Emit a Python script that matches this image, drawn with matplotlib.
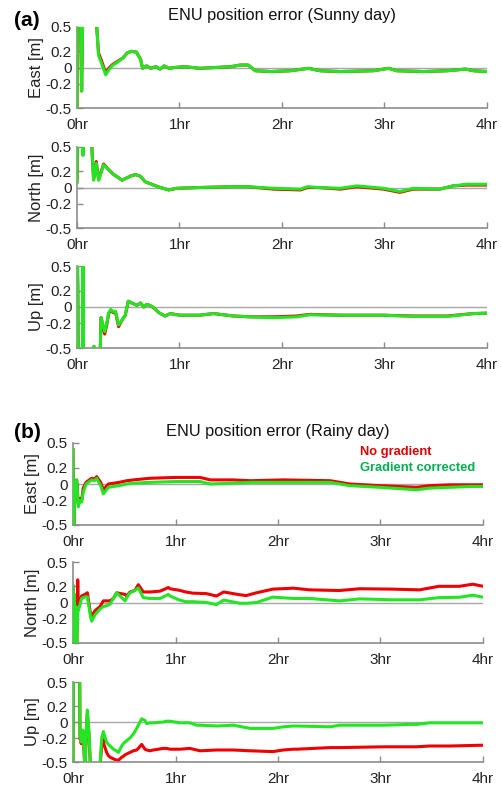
import numpy as np
import matplotlib
matplotlib.use('Agg')
import matplotlib.pyplot as plt

plt.rcParams['font.family'] = ['Liberation Sans', 'DejaVu Sans']

# ticks
hr_ticks = [0, 1, 2, 3, 4]
hr_labels = ['0hr', '1hr', '2hr', '3hr', '4hr']
y_ticks = [-0.5, -0.2, 0, 0.2, 0.5]
y_labels = ['-0.5', '-0.2', '0', '0.2', '0.5']

# (a) sunny day -- east
t_a_east = [0, 0.003, 0.035, 0.045, 0.055, 0.19, 0.21, 0.24, 0.28, 0.31, 0.35, 0.40, 0.45, 0.49,
            0.53, 0.58, 0.62, 0.64, 0.68, 0.72, 0.77, 0.81, 0.85, 0.90, 0.95, 1.05, 1.2, 1.35, 1.5,
            1.59, 1.67, 1.74, 1.89, 2.08, 2.26, 2.37, 2.57, 2.89, 3.04, 3.12, 3.38, 3.61, 3.79, 3.87, 4.0]
g_a_east = [-0.6, 0.6, 0.6, -0.29, 0.6, 0.55, 0.15, 0.05, -0.09, -0.03, 0.03, 0.07, 0.12, 0.18,
            0.2, 0.19, 0.1, -0.01, 0.02, -0.01, 0.01, -0.02, 0.02, -0.01, 0.0, 0.01, -0.01, 0.0, 0.01,
            0.03, 0.03, -0.04, -0.05, -0.04, -0.01, -0.04, -0.05, -0.04, -0.01, -0.04, -0.05, -0.04, -0.02, -0.04, -0.05]
r_a_east = [-0.6, 0.6, 0.6, -0.29, 0.6, 0.55, 0.18, 0.08, -0.07, -0.01, 0.04, 0.08, 0.12, 0.18,
            0.2, 0.19, 0.1, -0.01, 0.02, -0.01, 0.01, -0.02, 0.02, -0.01, 0.0, 0.01, -0.01, 0.0, 0.01,
            0.03, 0.03, -0.04, -0.05, -0.04, -0.01, -0.04, -0.05, -0.04, -0.01, -0.04, -0.05, -0.04, -0.02, -0.04, -0.05]

# (a) sunny day -- north
t_a_north = [0, 0.004, 0.03, 0.05, 0.058, 0.065, 0.14, 0.162, 0.188, 0.211, 0.26, 0.309, 0.357, 0.406,
             0.439, 0.52, 0.569, 0.617, 0.666, 0.748, 0.813, 0.894, 0.976, 1.2, 1.53, 1.66, 1.92, 2.18,
             2.25, 2.35, 2.57, 2.73, 2.99, 3.15, 3.28, 3.54, 3.67, 3.8, 4.0]
g_a_north = [0.07, 0.6, 0.6, 0.6, 0.4, 0.6, 0.6, 0.09, 0.3, 0.09, 0.28, 0.22, 0.16, 0.12,
             0.09, 0.14, 0.16, 0.14, 0.07, 0.03, 0.0, -0.03, -0.01, 0.0, 0.01, 0.01, -0.01, -0.02,
             0.01, 0.0, -0.01, 0.02, -0.01, -0.05, -0.01, -0.02, 0.02, 0.04, 0.04]
r_a_north = [0.07, 0.6, 0.6, 0.6, 0.4, 0.6, 0.6, 0.1, 0.32, 0.1, 0.29, 0.22, 0.16, 0.12,
             0.09, 0.14, 0.16, 0.14, 0.07, 0.03, 0.0, -0.03, -0.01, 0.0, 0.01, 0.01, -0.02, -0.03,
             0.0, 0.0, -0.02, 0.01, -0.02, -0.06, -0.02, -0.02, 0.02, 0.03, 0.03]

# (a) sunny day -- up
t_a_up = [0, 0.003, 0.008, 0.012, 0.055, 0.058, 0.062, 0.15, 0.165, 0.18, 0.225, 0.235, 0.25, 0.27,
          0.29, 0.309, 0.33, 0.355, 0.375, 0.406, 0.425, 0.45, 0.471, 0.5, 0.55, 0.585, 0.62, 0.65,
          0.68, 0.71, 0.75, 0.8, 0.86, 0.91, 1.0, 1.2, 1.33, 1.53, 1.69, 1.92, 2.14, 2.27, 2.57,
          2.99, 3.28, 3.61, 3.87, 4.0]
g_a_up = [-0.6, 0.6, 0.25, -0.6, -0.6, 0.6, -0.6, -0.6, -0.48, -0.6, -0.6, -0.13, -0.2, -0.3,
          -0.2, -0.07, -0.03, -0.06, -0.05, -0.22, -0.18, -0.14, -0.1, 0.07, 0.04, 0.02, 0.05, 0.0,
          0.03, 0.02, -0.01, -0.07, -0.11, -0.08, -0.1, -0.1, -0.08, -0.11, -0.12, -0.13, -0.12, -0.095, -0.1,
          -0.1, -0.115, -0.115, -0.08, -0.075]
r_a_up = [-0.6, 0.6, 0.25, -0.6, -0.6, 0.6, -0.6, -0.6, -0.48, -0.6, -0.6, -0.13, -0.22, -0.33,
          -0.22, -0.08, -0.04, -0.07, -0.06, -0.24, -0.19, -0.14, -0.1, 0.07, 0.04, 0.02, 0.05, 0.0,
          0.03, 0.02, -0.01, -0.07, -0.11, -0.08, -0.1, -0.1, -0.08, -0.11, -0.12, -0.12, -0.11, -0.09, -0.1,
          -0.1, -0.11, -0.11, -0.08, -0.075]

# (b) rainy day -- east
t_b_east = [0, 0.007, 0.02, 0.036, 0.052, 0.068, 0.084, 0.1, 0.127, 0.16, 0.182, 0.21, 0.231, 0.247,
            0.27, 0.296, 0.345, 0.45, 0.524, 0.589, 0.751, 1.0, 1.24, 1.34, 1.56, 1.73, 2.05, 2.51,
            2.7, 2.99, 3.35, 3.48, 3.68, 3.87, 4.0]
g_b_east = [0.42, -0.6, 0.0, 0.05, -0.28, -0.2, -0.22, -0.1, 0.0, 0.03, 0.05, 0.04, 0.07, 0.03,
            -0.02, -0.12, -0.04, -0.02, 0.0, 0.01, 0.02, 0.03, 0.03, 0.0, 0.01, 0.02, 0.02, 0.02,
            -0.02, -0.04, -0.07, -0.05, -0.04, -0.03, -0.03]
r_b_east = [0.42, -0.6, 0.0, 0.05, -0.25, -0.18, -0.2, -0.05, 0.02, 0.05, 0.07, 0.06, 0.09, 0.06,
            0.02, -0.07, 0.0, 0.02, 0.04, 0.05, 0.07, 0.08, 0.08, 0.05, 0.05, 0.04, 0.05, 0.04,
            0.0, -0.02, -0.04, -0.02, -0.01, -0.01, -0.01]

# (b) rainy day -- north
t_b_north = [0, 0.005, 0.012, 0.02, 0.03, 0.036, 0.046, 0.052, 0.084, 0.117, 0.14, 0.172, 0.182, 0.215,
             0.264, 0.296, 0.328, 0.361, 0.394, 0.426, 0.508, 0.524, 0.556, 0.605, 0.637, 0.686, 0.751,
             0.849, 0.93, 0.946, 1.04, 1.1, 1.17, 1.3, 1.4, 1.47, 1.63, 1.69, 1.79, 1.95, 2.15, 2.31,
             2.6, 2.8, 3.12, 3.38, 3.57, 3.77, 3.9, 4.0]
g_b_north = [0.2, -0.6, 0.1, -0.6, -0.05, -0.6, -0.1, -0.1, 0.05, 0.07, 0.07, -0.18, -0.23, -0.15,
             -0.08, -0.05, -0.04, -0.02, 0.05, 0.12, 0.02, 0.06, 0.12, 0.15, 0.18, 0.06, 0.05,
             0.05, 0.1, 0.08, 0.03, 0.01, 0.01, 0.0, -0.025, 0.03, -0.01, -0.01, 0.0, 0.066, 0.05, 0.05,
             0.02, 0.045, 0.033, 0.033, 0.06, 0.065, 0.09, 0.066]
r_b_north = [0.2, -0.6, 0.1, -0.6, -0.05, -0.6, 0.28, -0.05, 0.08, 0.1, 0.12, -0.15, -0.17, -0.1,
             -0.05, 0.02, 0.02, 0.02, 0.05, 0.12, 0.1, 0.08, 0.13, 0.15, 0.22, 0.13, 0.13,
             0.14, 0.185, 0.17, 0.15, 0.13, 0.115, 0.11, 0.08, 0.13, 0.095, 0.086, 0.12, 0.165, 0.177, 0.156,
             0.148, 0.17, 0.165, 0.156, 0.2, 0.2, 0.226, 0.2]

# (b) rainy day -- up
t_b_up = [0, 0.003, 0.065, 0.068, 0.08, 0.094, 0.1, 0.117, 0.13, 0.14, 0.155, 0.172, 0.26, 0.28,
          0.296, 0.302, 0.328, 0.345, 0.361, 0.394, 0.41, 0.443, 0.475, 0.491, 0.508, 0.556, 0.589,
          0.621, 0.637, 0.67, 0.702, 0.719, 0.751, 0.784, 0.881, 0.914, 0.946, 1.044, 1.141, 1.206,
          1.239, 1.401, 1.564, 1.73, 1.95, 2.05, 2.15, 2.18, 2.51, 2.6, 3.03, 3.29, 3.35, 3.48, 3.68, 4.0]
g_b_up = [-0.6, 0.6, 0.6, -0.15, -0.25, -0.1, -0.12, -0.6, -0.1, 0.15, -0.1, -0.6, -0.6, -0.2,
          -0.12, -0.15, -0.25, -0.28, -0.3, -0.34, -0.35, -0.38, -0.3, -0.27, -0.25, -0.2, -0.15,
          -0.08, -0.04, 0.04, 0.02, -0.02, -0.01, -0.01, 0.0, 0.01, 0.01, -0.01, -0.01, -0.04,
          -0.04, -0.05, -0.04, -0.08, -0.08, -0.06, -0.05, -0.05, -0.06, -0.04, -0.04, -0.03, -0.03, -0.01, -0.01, -0.01]
r_b_up = [-0.6, 0.6, 0.6, -0.2, -0.27, -0.18, -0.2, -0.6, -0.1, 0.1, -0.15, -0.6, -0.6, -0.3,
          -0.22, -0.28, -0.38, -0.42, -0.44, -0.46, -0.47, -0.48, -0.44, -0.43, -0.41, -0.38, -0.36,
          -0.35, -0.33, -0.28, -0.34, -0.35, -0.36, -0.35, -0.33, -0.33, -0.34, -0.34, -0.33, -0.35,
          -0.36, -0.35, -0.35, -0.36, -0.37, -0.35, -0.34, -0.34, -0.32, -0.32, -0.31, -0.31, -0.31, -0.3, -0.3, -0.29]

paneles = [
    # (rect in pixels: left, top, right, bottom), label, t, red, green
    ((77, 27, 487, 108), 'East [m]', t_a_east, r_a_east, g_a_east),
    ((77, 147, 487, 228), 'North [m]', t_a_north, r_a_north, g_a_north),
    ((77, 266, 487, 348), 'Up [m]', t_a_up, r_a_up, g_a_up),
    ((73, 443, 483, 525), 'East [m]', t_b_east, r_b_east, g_b_east),
    ((73, 562, 483, 643), 'North [m]', t_b_north, r_b_north, g_b_north),
    ((73, 682, 483, 762), 'Up [m]', t_b_up, r_b_up, g_b_up),
]

W, H = 502, 788
fig = plt.figure(figsize=(W / 100, H / 100), dpi=100)

rojo = '#ee0000'
verde = '#22e622'
gris = '#8c8c8c'

ejes = []
for (l, t, r, b), etiqueta, tt, rr, gg in paneles:
    ax = fig.add_axes([l / W, 1 - b / H, (r - l) / W, (b - t) / H])
    ax.axhline(0, color='#a8a8a8', lw=1.0, zorder=1)
    ax.plot(tt, rr, color=rojo, lw=2.2, zorder=2, solid_joinstyle='round')
    ax.plot(tt, gg, color=verde, lw=2.2, zorder=3, solid_joinstyle='round')
    ax.set_xlim(0, 4)
    ax.set_ylim(-0.5, 0.5)
    ax.set_xticks(hr_ticks)
    ax.set_xticklabels(hr_labels)
    ax.set_yticks(y_ticks)
    ax.set_yticklabels(y_labels)
    ax.tick_params(direction='in', length=4, width=1, color=gris, labelsize=11,
                   labelcolor='#222222', pad=4)
    ax.tick_params(axis='x', pad=7)
    for lado in ['top', 'right']:
        ax.spines[lado].set_visible(False)
    for lado in ['left', 'bottom']:
        ax.spines[lado].set_color(gris)
        ax.spines[lado].set_linewidth(1.2)
    ax.set_ylabel(etiqueta, fontsize=12, color='#222222', labelpad=1)
    ax.patch.set_alpha(0)
    ejes.append(ax)

# titulos
ejes[0].set_title('ENU position error (Sunny day)', fontsize=11.8, color='#111111', pad=5)
ejes[3].set_title('ENU position error (Rainy day)', fontsize=11.8, color='#111111', pad=5)
fig.text(27 / W, 1 - 21 / H, '(a)', fontsize=15, fontweight='bold', ha='center', va='center')
fig.text(27 / W, 1 - 432 / H, '(b)', fontsize=15, fontweight='bold', ha='center', va='center')

# leyenda como texto
fig.text(360 / W, 1 - 452 / H, 'No gradient', fontsize=9.3, fontweight='bold', color='#e00000',
         ha='left', va='center')
fig.text(360 / W, 1 - 468 / H, 'Gradient corrected', fontsize=9.3, fontweight='bold', color='#00b050',
         ha='left', va='center')

fig.savefig('out.png', dpi=100, facecolor='white')
